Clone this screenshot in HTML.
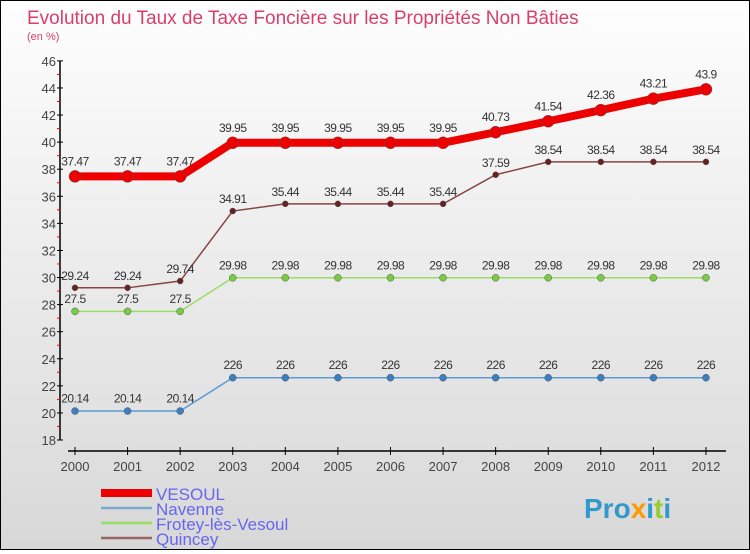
<!DOCTYPE html>
<html><head><meta charset="utf-8"><style>
body{margin:0;width:750px;height:550px;overflow:hidden;font-family:"Liberation Sans",sans-serif}
#wrap{position:relative;width:748px;height:548px;border:1px solid #000;background:linear-gradient(#fefefe,#d8d8d8)}
</style></head><body>
<div id="wrap">
<svg id="chart" width="748" height="548"></svg>
</div>
<script>
const years=[2000,2001,2002,2003,2004,2005,2006,2007,2008,2009,2010,2011,2012];
const vesoul=[37.47,37.47,37.47,39.95,39.95,39.95,39.95,39.95,40.73,41.54,42.36,43.21,43.9];
const navenne=[20.14,20.14,20.14,22.6,22.6,22.6,22.6,22.6,22.6,22.6,22.6,22.6,22.6];
const frotey=[27.5,27.5,27.5,29.98,29.98,29.98,29.98,29.98,29.98,29.98,29.98,29.98,29.98];
const quincey=[29.24,29.24,29.74,34.91,35.44,35.44,35.44,35.44,37.59,38.54,38.54,38.54,38.54];
const vesoulLabels=["37.47","37.47","37.47","39.95","39.95","39.95","39.95","39.95","40.73","41.54","42.36","43.21","43.9"];
const navenneLabels=["20.14","20.14","20.14","226","226","226","226","226","226","226","226","226","226"];
const yTicks=[18,20,22,24,26,28,30,32,34,36,38,40,42,44,46];
const NS="http://www.w3.org/2000/svg";
const svg=document.getElementById('chart');
const X0=59,Y0=439;
function xs(i){return 74+i*52.58;}
function ys(v){return Y0-(v-18)*13.54;}
function mk(t,a,p){const e=document.createElementNS(NS,t);for(const k in a)e.setAttribute(k,a[k]);(p||svg).appendChild(e);return e;}
let t=mk('text',{x:26,y:23,'font-size':19,fill:'#d8406a'});t.textContent="Evolution du Taux de Taxe Foncière sur les Propriétés Non Bâties";

t=mk('text',{x:26,y:39,'font-size':11,fill:'#d8406a'});t.textContent="(en %)";

let ax=mk('line',{x1:X0,y1:ys(46),x2:X0,y2:Y0,stroke:'#000','stroke-width':1.5});

yTicks.forEach(v=>{mk('line',{x1:X0-3,y1:ys(v),x2:X0+3,y2:ys(v),stroke:'#000'});
 if(v<46)mk('line',{x1:X0-3,y1:ys(v+1),x2:X0,y2:ys(v+1),stroke:'#f00'});
 const l=mk('text',{x:X0-4,y:ys(v)+5,'font-size':13,fill:'#444','text-anchor':'end'});l.textContent=v;
 });
ax=mk('line',{x1:X0+8,y1:450,x2:725,y2:450,stroke:'#000','stroke-width':1.5});

years.forEach((y,i)=>{mk('line',{x1:xs(i),y1:446,x2:xs(i),y2:454,stroke:'#000'});
 const l=mk('text',{x:xs(i),y:470,'font-size':13,fill:'#444','text-anchor':'middle'});l.textContent=y;
 });
function series(vals,labels,color,dot,w,r,name){
 const g=mk('g',{});
 mk('polyline',{points:vals.map((v,i)=>xs(i)+','+ys(v)).join(' '),fill:'none',stroke:color,'stroke-width':w},g);
 vals.forEach((v,i)=>{const c=mk('circle',{cx:xs(i),cy:ys(v),r:r,fill:dot,stroke:'#555','stroke-width':0.5},g);
  
  const l=mk('text',{x:xs(i),y:ys(v)-r-5,'font-size':12,fill:'#333','text-anchor':'middle','letter-spacing':-0.5},g);
  l.textContent=labels?labels[i]:v;});
}
series(navenne,navenneLabels,'#5b9bd5','#3a7fc0',1.5,3.5,'navenne');
series(frotey,null,'#99dd66','#77cc44',1.5,3.5,'frotey');
series(quincey,null,'#884444','#662222',1.5,3,'quincey');
series(vesoul,vesoulLabels,'#ee0000','#ee0000',8,6,'vesoul');
const leg=[["VESOUL","#ee0000",8],["Navenne","#7aaad0",2.5],["Frotey-lès-Vesoul","#99dd66",2.5],["Quincey","#996666",2.5]];
leg.forEach((e,i)=>{const y=492+i*15;
 const g=mk('g',{});
 mk('line',{x1:100,y1:y,x2:151,y2:y,stroke:e[1],'stroke-width':e[2]},g);
 const l=mk('text',{x:155,y:y+7,'font-size':17,fill:'#6666ee'},g);l.textContent=e[0];});
const lg=mk('text',{x:583,y:517,'font-size':28,'font-weight':'bold',fill:'#3399cc'});
lg.innerHTML='Pro<tspan fill="#ff9900">x</tspan>i<tspan fill="#99cc33">t</tspan>i';

</script>
</body></html>
